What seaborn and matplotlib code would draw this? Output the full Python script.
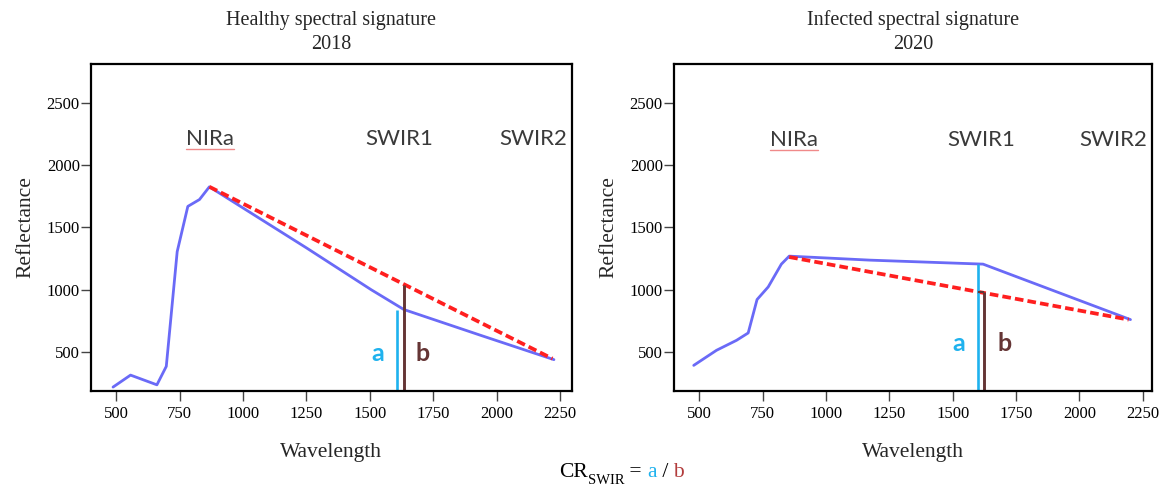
import matplotlib.pyplot as plt
from matplotlib.lines import Line2D
import seaborn as sns

# Spectral signatures (wavelength nm, reflectance)
healthy_wl = [487, 556, 660, 697, 740, 782, 828, 867, 1250, 1505, 1634, 1937, 2226]
healthy_refl = [219, 315, 237, 385, 1305, 1668, 1723, 1825, 1335, 1000, 841, 634, 439]
infected_wl = [478, 568, 647, 693, 728, 772, 824, 855, 1173, 1620, 1790, 2202]
infected_refl = [393, 514, 594, 653, 921, 1022, 1205, 1269, 1237, 1205, 1075, 760]

# continuum hull lines (NIR peak -> SWIR2)
healthy_hull_wl = [867, 2220]
healthy_hull_refl = [1825, 447]
infected_hull_wl = [855, 2195]
infected_hull_refl = [1262, 760]

# a / b bars at SWIR1
a_wl = [1608, 1601]
a_top = [841, 1205]
b_wl = [1634, 1623]
b_top = [1036, 982]
ab_label_wl = [[1532, 1706], [1526, 1706]]
ab_label_refl = [[492, 492], [565, 565]]

bands = ["NIRa", "SWIR1", "SWIR2"]
band_wl = [[870, 1617, 2143], [872, 1614, 2133]]
band_refl = [2212, 2202]

titles = ["Healthy spectral signature\n2018", "Infected spectral signature\n2020"]
x_ticks = [500, 750, 1000, 1250, 1500, 1750, 2000, 2250]
y_ticks = [500, 1000, 1500, 2000, 2500]

sns.set_theme(style="white")
plt.rcParams["font.family"] = ["Liberation Serif", "DejaVu Serif"]

BLUE = "#6a6af7"
RED = "#ff1f1f"
CYAN = "#1fb2ee"
BROWN = "#653535"
SANS = ["Lato", "DejaVu Sans"]

fig = plt.figure(figsize=(11.62, 4.88), dpi=100)
ax1 = fig.add_axes([0.0783, 0.1994, 0.4139, 0.6695])
ax2 = fig.add_axes([0.5800, 0.1994, 0.4114, 0.6695])

panels = [
    (ax1, healthy_wl, healthy_refl, healthy_hull_wl, healthy_hull_refl, (400, 2297)),
    (ax2, infected_wl, infected_refl, infected_hull_wl, infected_hull_refl, (400, 2287)),
]
ylim = (190, 2810)
nira_texts = []

for i, (ax, wl, refl, hwl, hrefl, xlim) in enumerate(panels):
    sns.lineplot(x=wl, y=refl, ax=ax, color=BLUE, lw=2.0, estimator=None, sort=False)
    sns.lineplot(x=hwl, y=hrefl, ax=ax, color=RED, lw=2.7, estimator=None,
                 linestyle=(0, (2.3, 1.1)))

    ax.vlines(a_wl[i], ylim[0], a_top[i], color=CYAN, lw=1.9)
    ax.vlines(b_wl[i], ylim[0], b_top[i], color=BROWN, lw=2.1)
    if i == 1:
        ax.hlines(b_top[i], a_wl[i], b_wl[i], color=BROWN, lw=1.5)

    ax.text(ab_label_wl[i][0], ab_label_refl[i][0], "a", color=CYAN, fontsize=18,
            family=SANS, weight="bold", ha="center", va="center")
    ax.text(ab_label_wl[i][1], ab_label_refl[i][1], "b", color=BROWN, fontsize=18,
            family=SANS, weight="bold", ha="center", va="center")

    for name, bx in zip(bands, band_wl[i]):
        t = ax.text(bx, band_refl[i], name, color="#3a3a3a", fontsize=16,
                    family=SANS, ha="center", va="center")
        if name == "NIRa":
            nira_texts.append(t)

    ax.set_xlim(*xlim)
    ax.set_ylim(*ylim)
    ax.set_xticks(x_ticks)
    ax.set_yticks(y_ticks)
    ax.tick_params(axis="both", which="major", direction="out", length=7,
                   width=1, color="#444444", labelsize=12, labelcolor="black",
                   left=True, bottom=True)
    ax.tick_params(axis="x", pad=4)
    ax.tick_params(axis="y", pad=1)
    for sp in ax.spines.values():
        sp.set_visible(True)
        sp.set_color("black")
        sp.set_linewidth(1.6)

    ax.set_title(titles[i], fontsize=14.5, pad=11, linespacing=1.3)
    ax.set_xlabel("Wavelength", fontsize=15.5, labelpad=15)
    ax.set_ylabel("Reflectance", fontsize=15.5, labelpad=8)

# formula at the bottom: CR_SWIR = a / b
y0 = 0.022
prev = fig.text(0.481, y0, "CR", fontsize=15.5, color="black", va="baseline")
pieces = [
    ("SWIR", 10.5, "black", -0.013),
    (" = ", 15.5, "black", 0),
    ("a", 15.5, CYAN, 0),
    (" / ", 15.5, "black", 0),
    ("b", 15.5, "#b23c3c", 0),
]
for txt, size, col, dy in pieces:
    prev = ax1.annotate(txt, xy=(1, y0 + dy), xycoords=(prev, "figure fraction"),
                        fontsize=size, color=col, va="baseline", ha="left",
                        annotation_clip=False)

# red spell-check style underline beneath NIRa
fig.canvas.draw()
for t in nira_texts:
    bb = t.get_window_extent()
    fig.add_artist(Line2D([bb.x0, bb.x1], [bb.y0, bb.y0], transform=None,
                          color="#f08a8a", lw=1.0))

fig.savefig("out.png", dpi=100)
